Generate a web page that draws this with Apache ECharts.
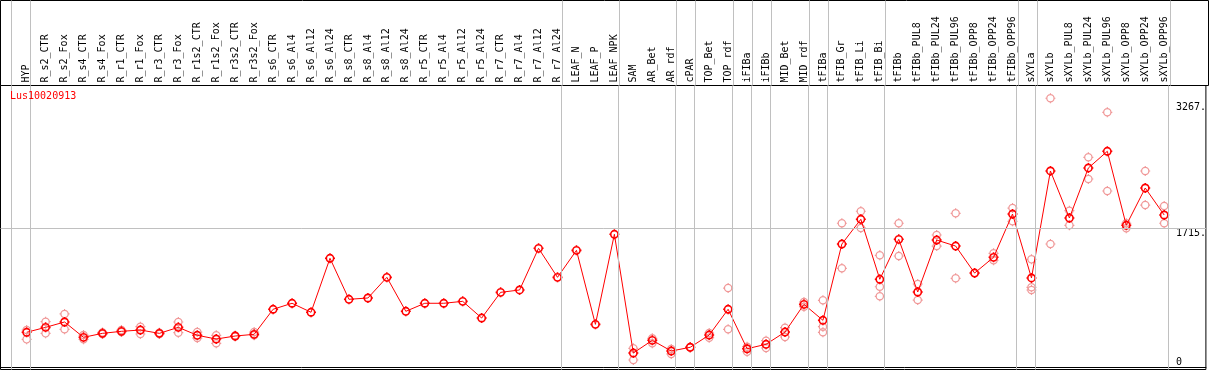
<!DOCTYPE html>
<html>
<head>
<meta charset="utf-8">
<script src="https://cdn.jsdelivr.net/npm/echarts@6/dist/echarts.min.js"></script>
<style>
html,body{margin:0;padding:0;background:#fff;}
#chart{width:1209px;height:370px;}
</style>
</head>
<body>
<div id="chart"></div>
<script>
const categories = ["HYP","R_s2_CTR","R_s2_Fox","R_s4_CTR","R_s4_Fox","R_r1_CTR","R_r1_Fox","R_r3_CTR","R_r3_Fox","R_r1s2_CTR","R_r1s2_Fox","R_r3s2_CTR","R_r3s2_Fox","R_s6_CTR","R_s6_Al4","R_s6_Al12","R_s6_Al24","R_s8_CTR","R_s8_Al4","R_s8_Al12","R_s8_Al24","R_r5_CTR","R_r5_Al4","R_r5_Al12","R_r5_Al24","R_r7_CTR","R_r7_Al4","R_r7_Al12","R_r7_Al24","LEAF_N","LEAF_P","LEAF_NPK","SAM","AR_Bet","AR_rdf","cPAR","TOP_Bet","TOP_rdf","iFIBa","iFIBb","MID_Bet","MID_rdf","tFIBa","tFIB_Gr","tFIB_Li","tFIB_Bi","tFIBb","tFIBb_PUL8","tFIBb_PUL24","tFIBb_PUL96","tFIBb_OPP8","tFIBb_OPP24","tFIBb_OPP96","sXYLa","sXYLb","sXYLb_PUL8","sXYLb_PUL24","sXYLb_PUL96","sXYLb_OPP8","sXYLb_OPP24","sXYLb_OPP96"];

const meanValues = [432,493,559,370,419,444,460,419,493,395,349,386,407,716,790,679,1345,839,855,1110,691,790,790,814,608,925,954,1468,1110,1443,530,1641,176,333,201,247,398,716,229,284,435,777,580,1521,1826,1086,1579,929,1570,1496,1163,1357,1891,1102,2422,1842,2459,2665,1752,2212,1879];

const rep1 = [460,563,658,345,430,460,501,425,559,435,395,392,435,null,null,null,null,null,null,null,null,null,null,null,null,null,null,null,null,null,null,null,234,358,226,250,423,978,254,328,489,806,827,1777,1925,1382,1777,1028,1632,1900,1163,1406,1965,1332,3319,1932,2591,3146,1777,2422,1990];
const rep2 = [345,419,469,398,410,435,411,412,427,361,296,380,395,null,null,null,null,null,null,null,null,null,null,null,null,null,null,null,null,null,null,null,90,296,164,244,365,469,192,238,374,748,501,1221,1719,994,1373,830,1496,1098,null,1321,1801,987,1521,1752,2323,2175,1715,2002,1777];
const rep3 = [null,null,null,null,null,null,null,null,null,null,null,null,null,null,null,null,null,null,null,null,null,null,null,null,null,null,null,null,null,null,null,null,null,null,null,null,null,null,null,null,null,null,432,null,null,876,null,null,null,null,null,null,null,954,null,null,null,null,null,null,null];

const separatorAfter = [-1,0,28,31,34,35,37,38,39,41,42,45,52,53,60];
const yLabelValues = [1715,3267];
const yZeroLabel = [0];
const geneName = "Lus10020913";

const FONT = "DejaVu Sans Mono";
const X_MIN = -1.379, X_MAX = 62.2;
const Y_MIN = -27, Y_MAX = 3476.6;
const SEP_OFFSET = 0.21;
const MARK = 'path://M1.5,5.5A4,4,0,1,1,9.5,5.5A4,4,0,1,1,1.5,5.5Z M5.5,0L5.5,1.5 M5.5,9.5L5.5,11 M0,5.5L1.5,5.5 M9.5,5.5L11,5.5';

const idx = categories.map((_, i) => i);
const meanData = meanValues.map((v, i) => [i, v]);
const repData = [];
[rep1, rep2, rep3].forEach(arr => arr.forEach((v, i) => { if (v != null) repData.push([i, v]); }));
const sepLines = separatorAfter.map(k => ({ xAxis: k + SEP_OFFSET }));

const chart = echarts.init(document.getElementById('chart'), null, { renderer: 'canvas' });
chart.setOption({
  animation: false,
  backgroundColor: '#fff',
  title: {
    text: geneName, left: 10, top: 91, padding: 0,
    textStyle: { fontFamily: FONT, fontSize: 10, fontWeight: 'normal', color: '#ff0000' }
  },
  grid: [
    { left: 0.5, right: 0.5, top: 85.5, bottom: 0.5, show: true, borderColor: '#000', borderWidth: 1, backgroundColor: 'transparent' },
    { left: 0.5, right: 0.5, top: 0.5, height: 85, show: true, borderColor: '#000', borderWidth: 1, backgroundColor: 'transparent' }
  ],
  xAxis: [
    {
      type: 'value', gridIndex: 0, position: 'top', min: X_MIN, max: X_MAX,
      axisLine: { show: true, lineStyle: { color: '#000', width: 1 } },
      axisTick: { show: false },
      splitLine: { show: false },
      axisLabel: {
        customValues: idx, rotate: 90, margin: 3,
        fontFamily: FONT, fontSize: 10, color: '#000',
        formatter: v => categories[Math.round(v)]
      }
    },
    { type: 'value', gridIndex: 1, min: X_MIN, max: X_MAX, show: false }
  ],
  yAxis: [
    {
      type: 'value', gridIndex: 0, position: 'right', min: Y_MIN, max: Y_MAX,
      axisLine: { show: false }, axisTick: { show: false }, splitLine: { show: false },
      axisLabel: {
        customValues: yLabelValues, inside: true, align: 'left', margin: 30, verticalAlign: 'top',
        fontFamily: FONT, fontSize: 10, color: '#000', formatter: v => v + '.'
      }
    },
    {
      type: 'value', gridIndex: 0, position: 'right', min: Y_MIN, max: Y_MAX,
      axisLine: { show: false }, axisTick: { show: false }, splitLine: { show: false },
      axisLabel: {
        customValues: yZeroLabel, inside: true, align: 'left', margin: 30, verticalAlign: 'bottom',
        fontFamily: FONT, fontSize: 10, color: '#000', formatter: v => String(v)
      }
    },
    { type: 'value', gridIndex: 1, min: 0, max: 1, show: false }
  ],
  series: [
    {
      type: 'scatter', xAxisIndex: 0, yAxisIndex: 0, data: [], z: 1, silent: true,
      markLine: {
        silent: true, symbol: 'none', label: { show: false },
        lineStyle: { color: '#c0c0c0', width: 1, type: 'solid' },
        data: sepLines.concat([{ yAxis: 1715 }])
      }
    },
    {
      type: 'scatter', xAxisIndex: 1, yAxisIndex: 2, data: [], z: 1, silent: true,
      markLine: {
        silent: true, symbol: 'none', label: { show: false },
        lineStyle: { color: '#c0c0c0', width: 1, type: 'solid' },
        data: sepLines
      }
    },
    {
      type: 'scatter', xAxisIndex: 0, yAxisIndex: 0, data: repData, z: 2, silent: true,
      symbol: MARK, symbolSize: 10,
      itemStyle: { color: 'rgba(0,0,0,0)', borderColor: '#f09898', borderWidth: 1.2, opacity: 1 }
    },
    {
      type: 'line', xAxisIndex: 0, yAxisIndex: 0, data: meanData, z: 3, silent: true,
      symbol: MARK, symbolSize: 10, showAllSymbol: true,
      lineStyle: { color: '#ff0000', width: 1 },
      itemStyle: { color: 'rgba(0,0,0,0)', borderColor: '#ff0000', borderWidth: 1.6 }
    }
  ]
});
</script>
</body>
</html>
